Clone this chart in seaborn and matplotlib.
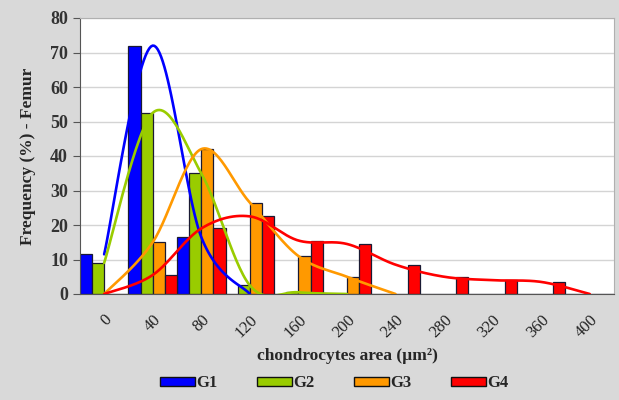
import numpy as np
import pandas as pd
import seaborn as sns
import matplotlib.pyplot as plt
from matplotlib.patches import Patch

# %% data
areas = ["0", "40", "80", "120", "160", "200", "240", "280", "320", "360", "400"]
groups = ["G1", "G2", "G3", "G4"]
g1 = [11.5, 72, 16.5, 0, 0, 0, 0, 0, 0, 0, 0]
g2 = [9, 52.5, 35, 2.5, 0.5, 0, 0, 0, 0, 0, 0]
g3 = [0, 15, 42, 26.5, 11, 5, 0, 0, 0, 0, 0]
g4 = [0, 5.5, 19, 22.5, 15.5, 14.5, 8.5, 5, 4, 3.5, 0]
# number of classes each smoothed line runs over
curveLen = [4, 6, 7, 11]
colors = ["#0000ff", "#99cc00", "#ff9900", "#ff0000"]

df = pd.DataFrame({"Area": areas * 4,
                   "Group": np.repeat(groups, len(areas)),
                   "Freq": g1 + g2 + g3 + g4})

# %% excel-like smoothed line (bezier with 1/6 tangents)
def smooth(x, y, n=30):
    x = np.asarray(x, float); y = np.asarray(y, float)
    px = np.r_[x[0], x, x[-1]]; py = np.r_[y[0], y, y[-1]]
    xs, ys = [], []
    t = np.linspace(0, 1, n)
    for i in range(1, len(px) - 2):
        p1 = np.array([px[i], py[i]]); p2 = np.array([px[i + 1], py[i + 1]])
        c1 = p1 + (np.array([px[i + 1], py[i + 1]]) - np.array([px[i - 1], py[i - 1]])) / 6
        c2 = p2 - (np.array([px[i + 2], py[i + 2]]) - np.array([px[i], py[i]])) / 6
        b = ((1 - t) ** 3)[:, None] * p1 + (3 * (1 - t) ** 2 * t)[:, None] * c1 \
            + (3 * (1 - t) * t ** 2)[:, None] * c2 + (t ** 3)[:, None] * p2
        xs.append(b[:, 0]); ys.append(b[:, 1])
    return np.concatenate(xs), np.concatenate(ys)

# %% plot
sns.set_style("white")
plt.rcParams['font.family'] = ['Liberation Serif', 'DejaVu Serif']
fig = plt.figure(figsize=(6.19, 4.0), dpi=100, facecolor="#d9d9d9")
ax = fig.add_axes([0.129, 0.265, 0.863, 0.69])
ax.set_facecolor("white")
sns.barplot(data=df, x="Area", y="Freq", hue="Group", palette=colors, saturation=1,
            width=1, edgecolor="#1a1a33", linewidth=0.9, legend=False, ax=ax, zorder=2)
for vals, k, c in zip([g1, g2, g3, g4], curveLen, colors):
    xs, ys = smooth(range(k), vals[:k])
    ax.plot(xs, ys, color=c, lw=1.9, zorder=3, solid_capstyle="round")

ax.set_xlim(-0.5, 10.5)
ax.set_ylim(0, 80)
ax.set_yticks(range(0, 81, 10))
ax.yaxis.grid(True, color="#d4d4d4", lw=1)
ax.set_axisbelow(True)
for s in ["top", "right"]:
    ax.spines[s].set_color("#b0b0b0")
for s in ["left", "bottom"]:
    ax.spines[s].set_color("#555555")
ax.set_xticks(np.arange(-0.5, 11, 1), minor=True)
ax.tick_params(axis="x", which="major", length=0, pad=13)
ax.tick_params(axis="x", which="minor", length=5, color="#555555", direction="out")
ax.tick_params(axis="y", length=5, color="#555555", direction="out", left=True)
ax.set_xticks(range(len(areas)))
ax.set_xticklabels(areas, rotation=45, ha="right", va="top", rotation_mode="anchor",
                   fontsize=12, color="#222222")
for lab in ax.get_yticklabels():
    lab.set_fontsize(13); lab.set_fontweight("bold"); lab.set_color("#333333")
ax.set_xlabel("chondrocytes area (µm²)", fontsize=12.5, fontweight="bold", labelpad=5)
ax.set_ylabel("Frequency (%) - Femur", fontsize=12.5, fontweight="bold", labelpad=10)

handles = [Patch(facecolor=c, edgecolor="#111111", lw=1) for c in colors]
fig.legend(handles, groups, loc="center", bbox_to_anchor=(0.54, 0.042), ncol=4,
           frameon=False, handlelength=2.1, handleheight=0.5, handletextpad=0.05,
           columnspacing=2.4, prop={"weight": "bold", "size": 12})
fig.savefig("out.png", dpi=100, facecolor=fig.get_facecolor())
